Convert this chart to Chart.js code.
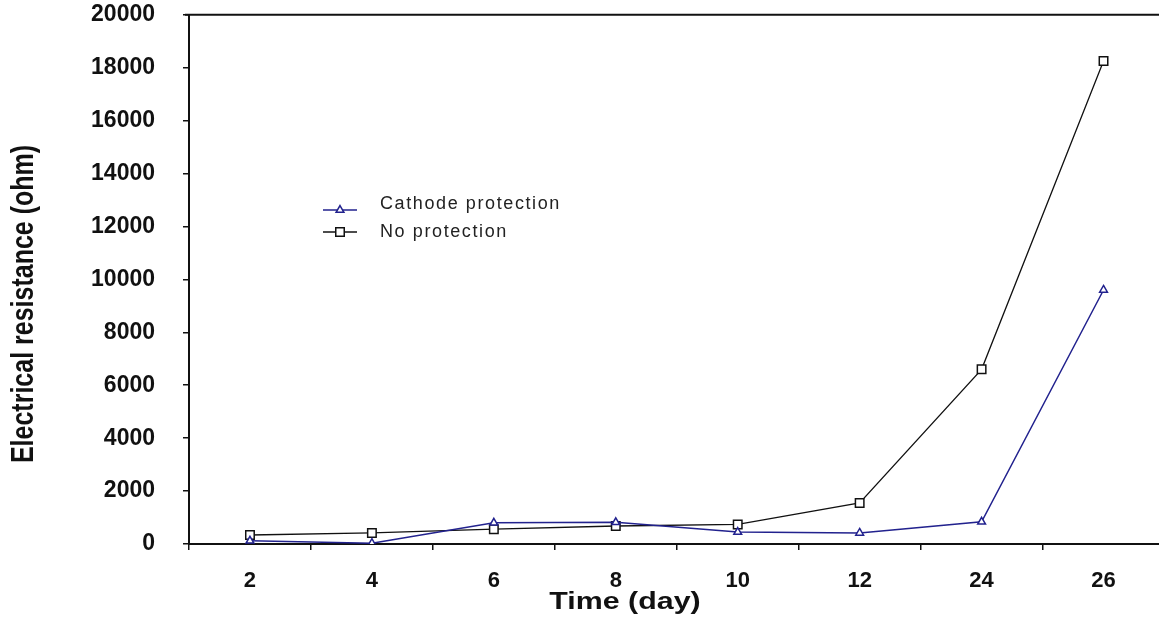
<!DOCTYPE html>
<html>
<head>
<meta charset="utf-8">
<script src="https://cdn.jsdelivr.net/npm/chart.js@4/dist/chart.umd.min.js"></script>
<style>
  html, body { margin: 0; padding: 0; background: #fff; overflow: hidden; }
  #page { width: 1159px; height: 619px; position: relative; overflow: hidden; }
  /* canvas is a bit larger than the page so the plot frame can sit on the top/right edges */
  #wrap { width: 1172px; height: 646px; position: absolute; left: 0; top: -27px; }
</style>
</head>
<body>
<div id="page"><div id="wrap"><canvas id="chart"></canvas></div></div>
<script>
const days = ['2', '4', '6', '8', '10', '12', '24', '26'];
const cathodeProtection = [120, 30, 800, 820, 450, 420, 840, 9600];
const noProtection = [340, 420, 560, 680, 740, 1550, 6600, 18250];
const yTicks = [0, 2000, 4000, 6000, 8000, 10000, 12000, 14000, 16000, 18000, 20000];

const FONT = "'Liberation Sans', Arial, sans-serif";
const SHIFT = 27; // canvas y offset against the page

// axis titles, top frame line and the legend inside the plot
const decor = {
  id: 'decor',
  afterDraw(chart) {
    const { ctx, chartArea } = chart;
    ctx.save();
    ctx.strokeStyle = '#111';
    ctx.lineWidth = 2;
    ctx.beginPath();
    ctx.moveTo(chartArea.left - 4, chartArea.top);
    ctx.lineTo(chart.width, chartArea.top);
    ctx.stroke();
    ctx.restore();

    // the original's titles are a little stretched sideways
    ctx.save();
    ctx.fillStyle = '#111';
    ctx.textAlign = 'center';
    ctx.textBaseline = 'middle';
    ctx.font = 'bold 23px ' + FONT;
    ctx.translate(625, 603 + SHIFT);
    ctx.scale(1.32, 1);
    ctx.fillText('Time (day)', 0, 0);
    ctx.restore();

    ctx.save();
    ctx.fillStyle = '#111';
    ctx.textAlign = 'center';
    ctx.textBaseline = 'middle';
    ctx.font = 'bold 25px ' + FONT;
    ctx.translate(24, 304 + SHIFT);
    ctx.rotate(-Math.PI / 2);
    ctx.scale(1, 1.25);
    ctx.fillText('Electrical resistance (ohm)', 0, 0);
    ctx.restore();

    // legend
    const rows = [[0, 210, 204], [1, 232, 232]];
    ctx.save();
    rows.forEach(([i, ly, ty]) => {
      const ds = chart.data.datasets[i];
      ctx.strokeStyle = ds.borderColor;
      ctx.lineWidth = 1.5;
      ctx.beginPath();
      ctx.moveTo(323, ly + SHIFT);
      ctx.lineTo(357, ly + SHIFT);
      ctx.stroke();
      ctx.fillStyle = '#fff';
      Chart.helpers.drawPoint(ctx, {
        pointStyle: ds.pointStyle, radius: ds.pointRadius,
        borderWidth: 1.5, rotation: 0
      }, 340, ly + SHIFT);
      ctx.fillStyle = '#222';
      ctx.font = '18px ' + FONT;
      ctx.letterSpacing = '1.6px';
      ctx.textAlign = 'left';
      ctx.textBaseline = 'middle';
      ctx.fillText(ds.label, 380, ty + SHIFT);
    });
    ctx.restore();
  }
};

new Chart(document.getElementById('chart'), {
  type: 'line',
  data: {
    labels: days,
    datasets: [{
      label: 'Cathode protection',
      data: cathodeProtection,
      borderColor: '#22228e',
      backgroundColor: '#fff',
      borderWidth: 1.5,
      pointStyle: 'triangle',
      pointRadius: 4.5,
      pointBorderWidth: 1.5,
      tension: 0,
    }, {
      label: 'No protection',
      data: noProtection,
      borderColor: '#111',
      backgroundColor: '#fff',
      borderWidth: 1.3,
      pointStyle: 'rect',
      pointRadius: 6,
      pointBorderWidth: 1.5,
      tension: 0,
    }],
  },
  options: {
    responsive: true,
    maintainAspectRatio: false,
    animation: false,
    layout: { padding: { top: 13, right: 0, left: 0, bottom: 0 } },
    plugins: {
      legend: { display: false },
      tooltip: { enabled: false },
    },
    scales: {
      x: {
        offset: true,
        grid: { offset: true, drawOnChartArea: false, tickLength: 6, color: '#111', lineWidth: 1.5 },
        border: { color: '#111', width: 2 },
        ticks: { color: '#111', padding: 18, font: { family: FONT, size: 22, weight: 'bold' } },
        afterFit: (scale) => { scale.height = 75; },
      },
      y: {
        min: 0,
        max: 20000,
        afterBuildTicks: (scale) => { scale.ticks = yTicks.map(v => ({ value: v })); },
        grid: { drawOnChartArea: false, tickLength: 6, color: '#111', lineWidth: 1.5 },
        border: { color: '#111', width: 2 },
        ticks: {
          color: '#111', padding: 28,
          font: { family: FONT, size: 23, weight: 'bold' },
          callback: (v) => String(v),
        },
        afterFit: (scale) => { scale.width = 189; },
      },
    },
  },
  plugins: [decor],
});
</script>
</body>
</html>
